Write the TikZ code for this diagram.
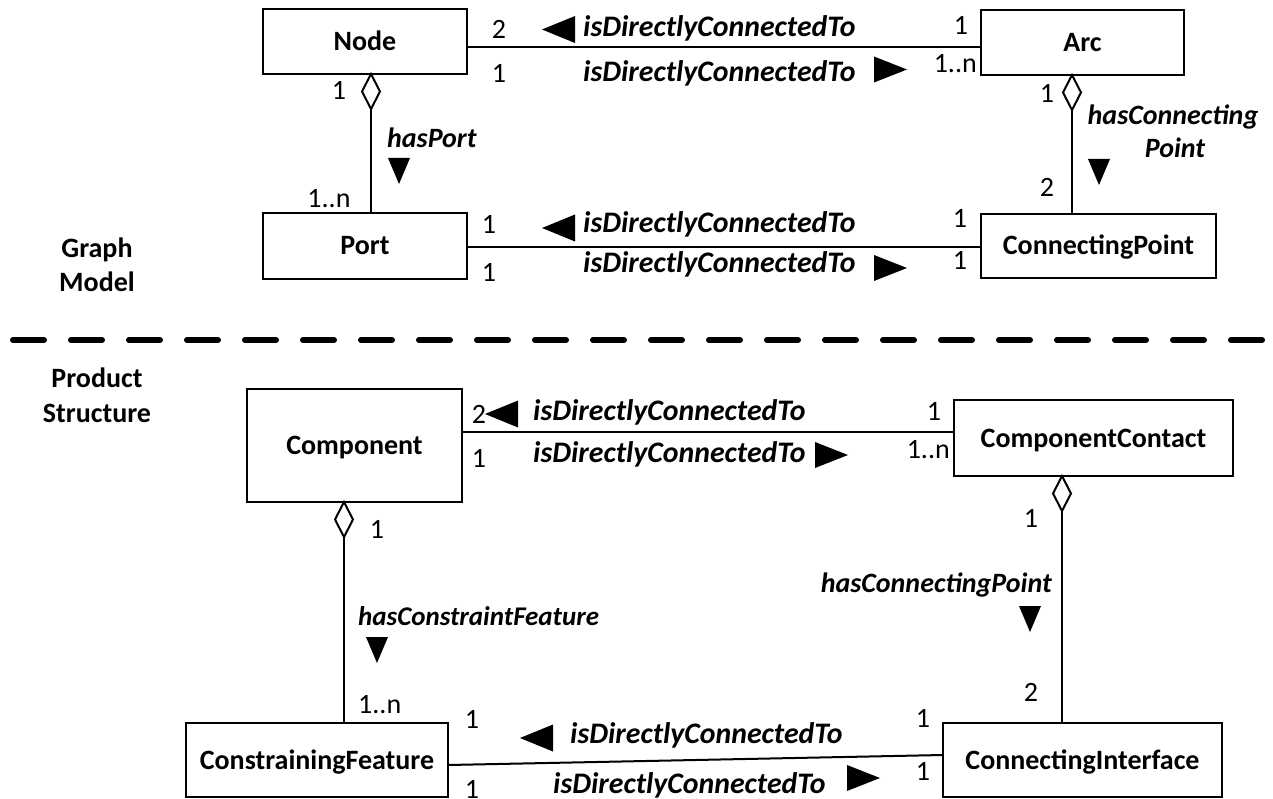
\documentclass[tikz,border=0pt]{standalone}
\usepackage{fontspec}
\setmainfont{Carlito}
\usetikzlibrary{shapes.geometric}

\tikzset{
  box/.style={draw, line width=2pt, inner sep=0pt, outer sep=0pt,
    font=\fontsize{28}{34}\selectfont\bfseries, text height=18pt, text depth=0pt},
  rel/.style={inner sep=0pt, anchor=base west, font=\fontsize{28}{34}\selectfont\bfseries\itshape},
  conn/.style={rel, font=\fontsize{29.8}{34}\selectfont\bfseries\itshape},
  mult/.style={inner sep=0pt, anchor=base, font=\fontsize{28}{34}\selectfont},
  title/.style={inner sep=0pt, anchor=base, font=\fontsize{28}{34}\selectfont\bfseries},
  link/.style={line width=2pt},
  aggd/.style={diamond, draw, line width=2pt, fill=white, inner sep=0pt, outer sep=0pt,
    minimum width=18pt, minimum height=35pt, anchor=north},
  divider/.style={line width=6pt, line cap=round, dash pattern=on 31pt off 27pt},
  pics/pointleft/.style={code={\fill (0,0) -- (33,-13.5) -- (33,13.5) -- cycle;}},
  pics/pointright/.style={code={\fill (0,0) -- (-33,-13) -- (-33,13) -- cycle;}},
  pics/pointdown/.style={code={\fill (0,0) -- (-11,-26) -- (11,-26) -- cycle;}},
}

\begin{document}
\begin{tikzpicture}[x=1pt, y=-1pt]
\useasboundingbox[fill=white] (0,0) rectangle (1273,799);

% ---------------- Graph model ----------------
\node[box, minimum width=204pt, minimum height=65pt] (node) at (365,41.5) {Node};
\node[box, minimum width=203pt, minimum height=65pt] (arc) at (1082.5,42.5) {Arc};
\node[box, minimum width=204pt, minimum height=66pt] (port) at (365,246) {Port};
\node[box, minimum width=235pt, minimum height=64pt] (cpoint) at (1098.5,246) {ConnectingPoint};

\draw[link] ([yshift=-6pt]node.east) -- ([yshift=-5pt]arc.west);
\draw[link] ([yshift=-1pt]port.east) -- ([yshift=-1pt]cpoint.west);

\node[aggd] (nodeagg) at ([xshift=6pt]node.south) {};
\draw[link] (nodeagg.south) -- (nodeagg.south |- port.north);
\node[aggd] (arcagg) at ([xshift=-10.5pt]arc.south) {};
\draw[link] (arcagg.south) -- (arcagg.south |- cpoint.north);

% Node -- Arc
\node[mult] (m1) at (499,39) {2};
\node[mult] (m2) at (499,83) {1};
\pic at (542,29.5) {pointleft};
\node[conn] (r1) at (583,37) {isDirectlyConnectedTo};
\node[conn] (r2) at (583,82) {isDirectlyConnectedTo};
\pic at (907,69.5) {pointright};
\node[mult] (m3) at (961,35) {1};
\node[mult, anchor=base east] (m4) at (977,73) {1..n};

% Node -- Port
\node[mult] (m5) at (339,100) {1};
\node[rel] (r3) at (387,148) {hasPort};
\pic at (399,184) {pointdown};
\node[mult] (m6) at (329,208) {1..n};

% Arc -- ConnectingPoint
\node[mult] (m7) at (1047,103) {1};
\node[mult] (m8) at (1047,197) {2};
\node[rel, anchor=base] (r4) at (1173,125) {hasConnecting};
\node[rel, anchor=base] (r5) at (1175,158) {Point};
\pic at (1099,185) {pointdown};

% Port -- ConnectingPoint
\node[mult] (m9) at (489,234) {1};
\node[mult] (m10) at (489,282) {1};
\pic at (542,228) {pointleft};
\node[conn] (r6) at (583,233) {isDirectlyConnectedTo};
\node[conn] (r7) at (583,273) {isDirectlyConnectedTo};
\pic at (907,268) {pointright};
\node[mult] (m11) at (960,228) {1};
\node[mult] (m12) at (960,270) {1};

\node[title] (t1) at (97,258) {Graph};
\node[title] (t2) at (97,292) {Model};

% ---------------- Divider ----------------
\coordinate (dl) at (13,340);
\coordinate (dr) at (1264,340);
\draw[divider] (dl) -- (dr);

% ---------------- Product structure ----------------
\node[title] (t3) at (97,387) {Product};
\node[title] (t4) at (97,422) {Structure};

\node[box, minimum width=215pt, minimum height=113pt] (comp) at (354.5,445.5) {Component};
\node[box, minimum width=279pt, minimum height=76pt] (ccontact) at (1093.5,438) {ComponentContact};
\node[box, minimum width=262pt, minimum height=74pt] (cfeat) at (317,760) {ConstrainingFeature};
\node[box, minimum width=279pt, minimum height=74pt] (cif) at (1082.5,760) {ConnectingInterface};

\draw[link] ([yshift=13.5pt]comp.east) -- ([yshift=6pt]ccontact.west);
\draw[link] ([yshift=-5pt]cfeat.east) -- ([yshift=5pt]cif.west);

\node[aggd] (compagg) at ([xshift=-10.5pt]comp.south) {};
\draw[link] (compagg.south) -- (compagg.south |- cfeat.north);
\node[aggd] (ccagg) at ([xshift=-31.5pt]ccontact.south) {};
\draw[link] (ccagg.south) -- (ccagg.south |- cif.north);

% Component -- ComponentContact
\node[mult] (m13) at (479,423) {2};
\node[mult] (m14) at (479,467) {1};
\pic at (485,414) {pointleft};
\node[conn] (r8) at (533,420) {isDirectlyConnectedTo};
\node[conn] (r9) at (533,462) {isDirectlyConnectedTo};
\pic at (848,455) {pointright};
\node[mult] (m15) at (934,420) {1};
\node[mult, anchor=base east] (m16) at (950,458) {1..n};

% Component -- ConstrainingFeature
\node[mult] (m17) at (377,538) {1};
\node[rel, font=\fontsize{27}{32}\selectfont\bfseries\itshape] (r10) at (358,625) {hasConstraintFeature};
\pic at (377,663) {pointdown};
\node[mult, anchor=base west] (m18) at (358,713) {1..n};

% ComponentContact -- ConnectingInterface
\node[mult] (m19) at (1031,527) {1};
\node[rel, anchor=base east] (r11) at (1052,592) {hasConnectingPoint};
\pic at (1030,632) {pointdown};
\node[mult] (m20) at (1031,701) {2};

% ConstrainingFeature -- ConnectingInterface
\node[mult] (m21) at (472,728) {1};
\node[mult] (m22) at (472,798) {1};
\pic at (520,738) {pointleft};
\node[conn] (r12) at (570,743) {isDirectlyConnectedTo};
\node[conn] (r13) at (553,793) {isDirectlyConnectedTo};
\pic at (880,778) {pointright};
\node[mult] (m23) at (923,727) {1};
\node[mult] (m24) at (923,780) {1};
\end{tikzpicture}
\end{document}
